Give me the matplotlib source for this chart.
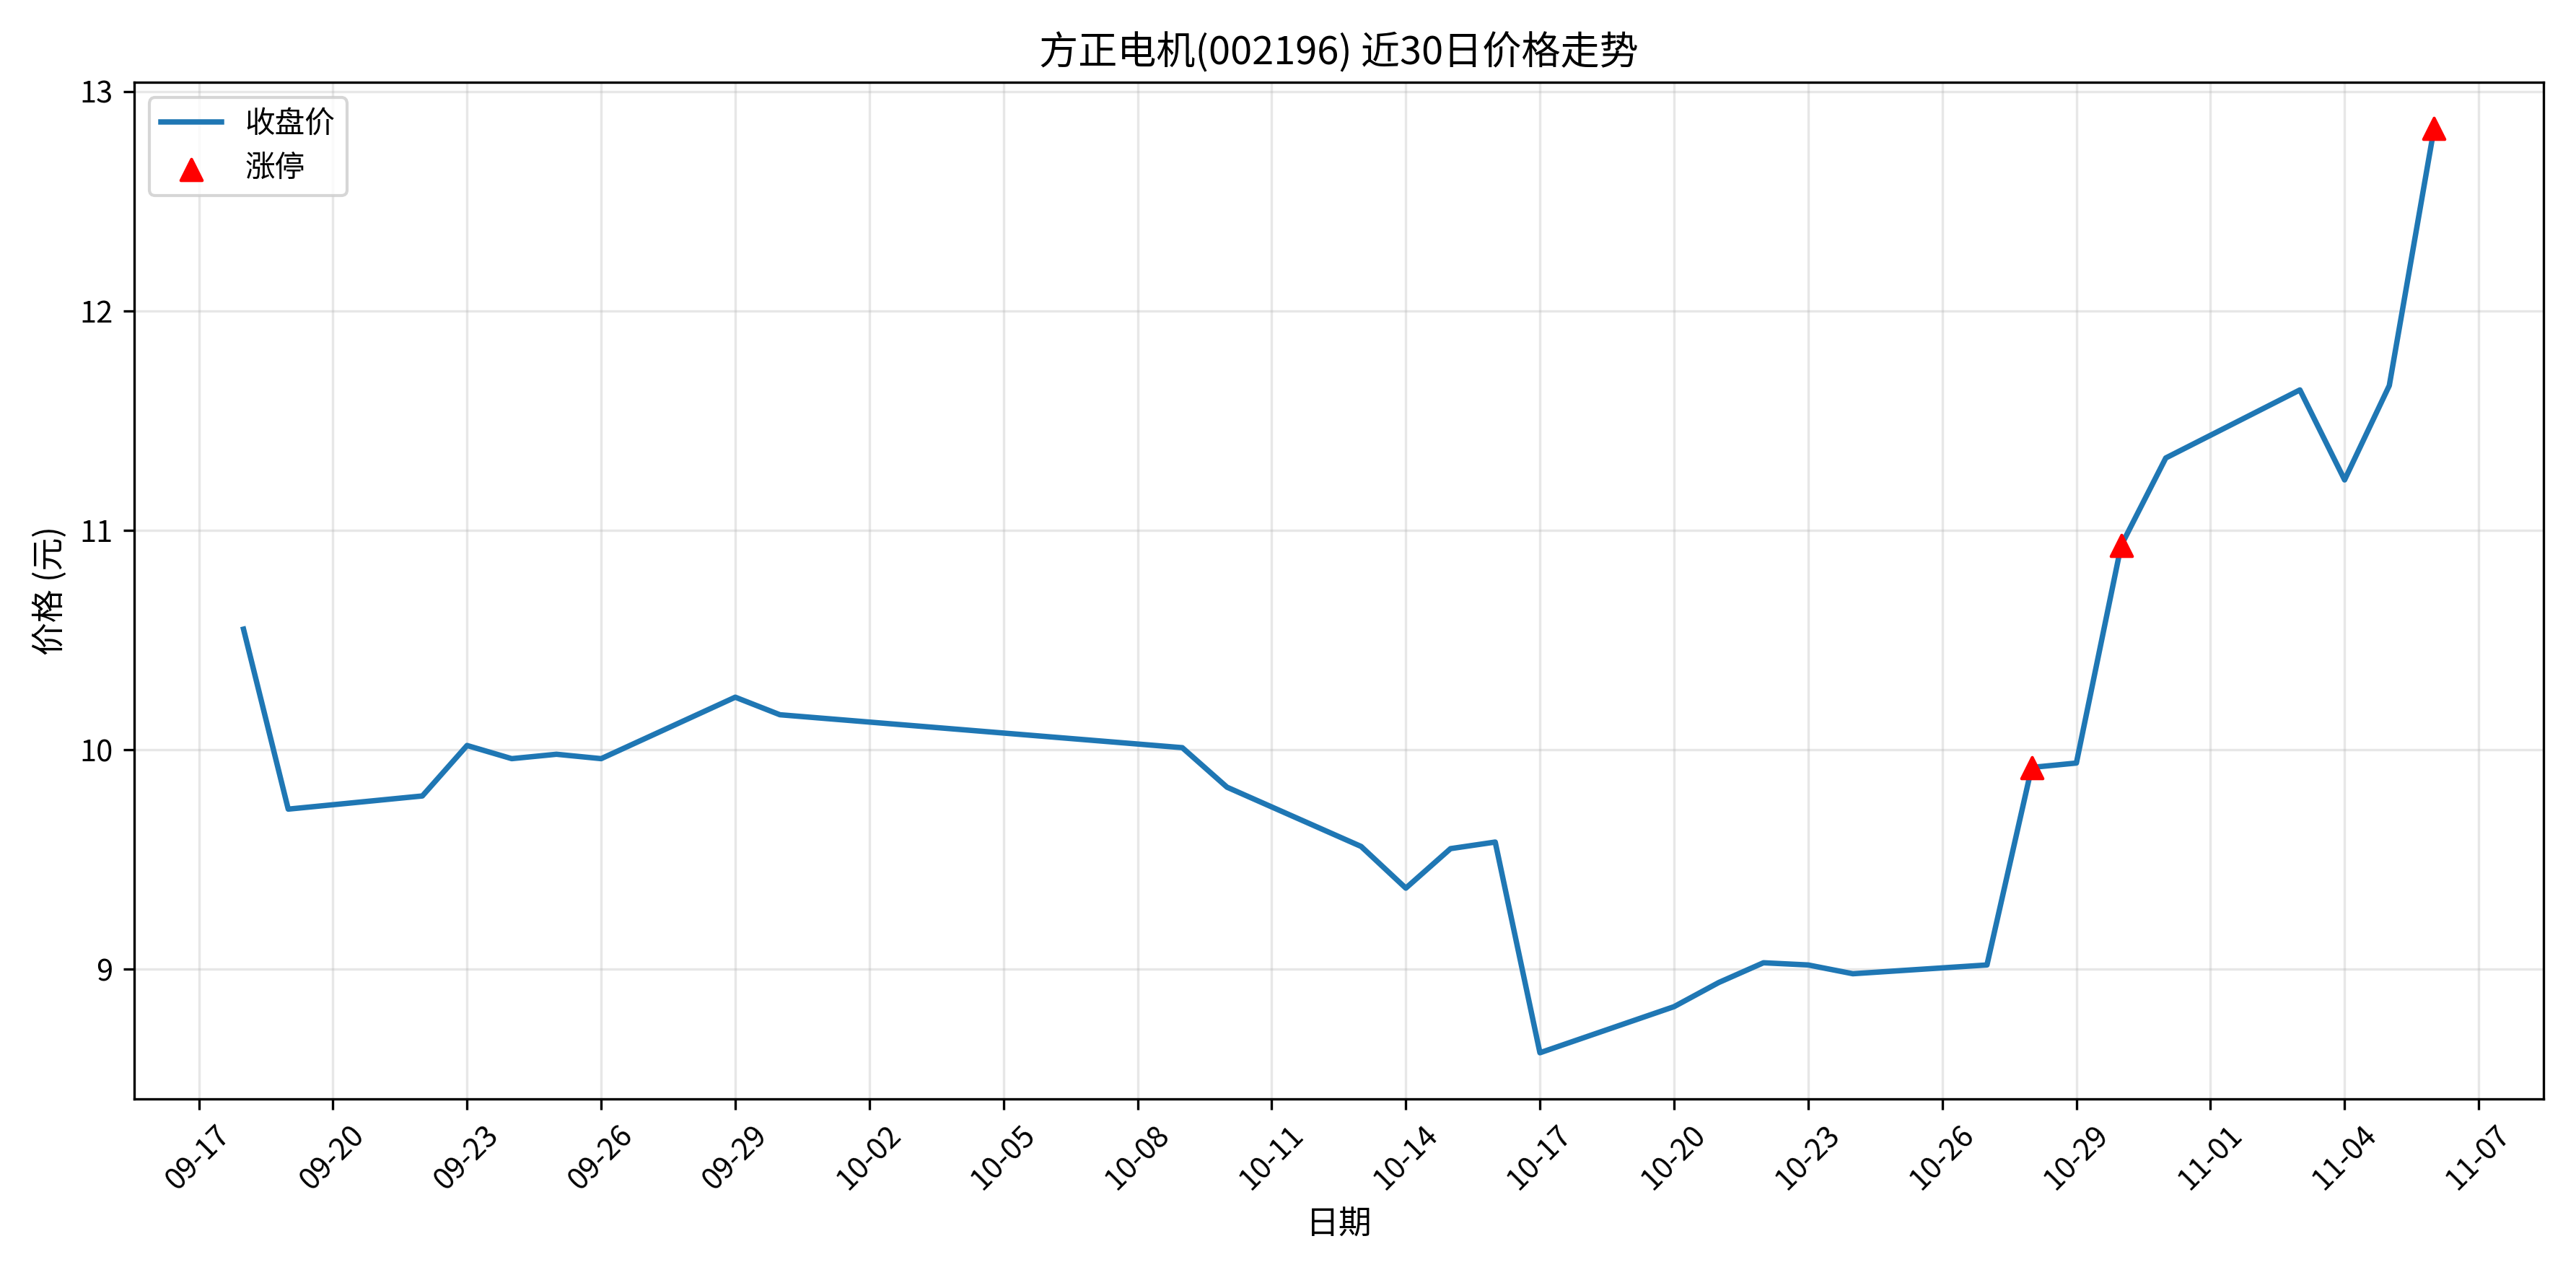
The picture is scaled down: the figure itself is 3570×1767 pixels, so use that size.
import pandas as pd
import matplotlib
matplotlib.use('Agg')
from matplotlib import pyplot as plt
import matplotlib.dates as mdates

plt.rcParams['font.family'] = ['Noto Sans CJK SC', 'DejaVu Sans']
plt.rcParams['axes.unicode_minus'] = False

dates = ['2025-09-18', '2025-09-19', '2025-09-22', '2025-09-23', '2025-09-24', '2025-09-25',
         '2025-09-26', '2025-09-29', '2025-09-30', '2025-10-09', '2025-10-10', '2025-10-13',
         '2025-10-14', '2025-10-15', '2025-10-16', '2025-10-17', '2025-10-20', '2025-10-21',
         '2025-10-22', '2025-10-23', '2025-10-24', '2025-10-27', '2025-10-28', '2025-10-29',
         '2025-10-30', '2025-10-31', '2025-11-03', '2025-11-04', '2025-11-05', '2025-11-06']
close = [10.55, 9.73, 9.79, 10.02, 9.96, 9.98, 9.96, 10.24, 10.16, 10.01, 9.83, 9.56,
         9.37, 9.55, 9.58, 8.62, 8.83, 8.94, 9.03, 9.02, 8.98, 9.02, 9.92, 9.94,
         10.93, 11.33, 11.64, 11.23, 11.66, 12.83]
limit_up = ['2025-10-28', '2025-10-30', '2025-11-06']

data = pd.DataFrame({'date': pd.to_datetime(dates), 'close': close})
lu = data[data['date'].isin(pd.to_datetime(limit_up))]

fig, ax = plt.subplots(figsize = (11.9, 5.89), dpi = 300)
ax.plot(data['date'], data['close'], color = '#1f77b4', linewidth = 1.8, label = '收盘价')
ax.scatter(lu['date'], lu['close'], marker = '^', color = 'red', s = 50, zorder = 3, label = '涨停')

ax.set_xticks(pd.date_range('2025-09-17', '2025-11-07', freq = '3D'))
ax.xaxis.set_major_formatter(mdates.DateFormatter('%m-%d'))
ax.margins(x = 0.05)
plt.setp(ax.get_xticklabels(), rotation = 45)

ax.set_title('方正电机(002196) 近30日价格走势', fontsize = 13)
ax.set_xlabel('日期', fontsize = 11)
ax.set_ylabel('价格 (元)', fontsize = 11)
ax.grid(True, alpha = 0.3)
ax.legend(loc = 'upper left')

fig.tight_layout()
fig.savefig('out.png', dpi = 300)
